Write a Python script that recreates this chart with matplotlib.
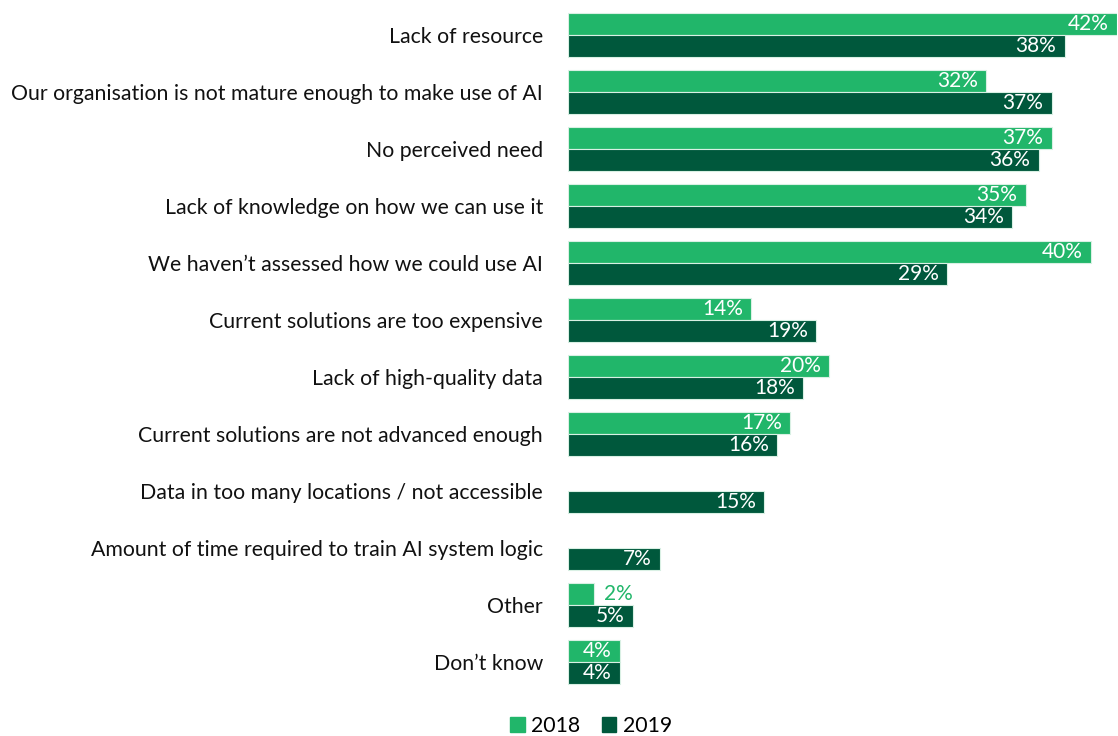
import numpy as np
import matplotlib.pyplot as plt
from matplotlib.patches import Patch

plt.rcParams['font.family'] = ['Lato', 'DejaVu Sans']

categories = [
    "Lack of resource",
    "Our organisation is not mature enough to make use of AI",
    "No perceived need",
    "Lack of knowledge on how we can use it",
    "We haven\u2019t assessed how we could use AI",
    "Current solutions are too expensive",
    "Lack of high-quality data",
    "Current solutions are not advanced enough",
    "Data in too many locations / not accessible",
    "Amount of time required to train AI system logic",
    "Other",
    "Don\u2019t know",
]
vals_2018 = [42, 32, 37, 35, 40, 14, 20, 17, None, None, 2, 4]
vals_2019 = [38, 37, 36, 34, 29, 19, 18, 16, 15, 7, 5, 4]

C18 = "#21b66a"
C19 = "#00583c"

W, H = 1118, 736
fig = plt.figure(figsize=(W / 100, H / 100), dpi=100)
# axes spans x pixels 568..1117, y pixels 0..700
ax = fig.add_axes([568 / W, 1 - 700 / H, (1117 - 568) / W, 700 / H])

y = np.arange(len(categories))
bh = 22 / 57

for i, (a, b) in enumerate(zip(vals_2018, vals_2019)):
    for v, off, col in [(a, -bh / 2, C18), (b, bh / 2, C19)]:
        if v is None:
            continue
        ax.barh(i + off, v, height=bh, color=col, edgecolor="#d9f0e4", lw=0.8)
        if v >= 4:
            ax.annotate(f"{v}%", (v, i + off), xytext=(-6, 0), textcoords="offset points",
                        ha="right", va="center", color="white", fontsize=15)
        else:
            ax.annotate(f"{v}%", (v, i + off), xytext=(7, 0), textcoords="offset points",
                        ha="left", va="center", color=col, fontsize=15)

ax.set_xlim(0, 42)
ax.set_ylim((700 - 35) / 57, -35 / 57)
ax.set_yticks(y)
ax.set_yticklabels(categories, fontsize=15.3, color="#111111")
ax.tick_params(axis="y", length=0, pad=18)
ax.set_xticks([])
for s in ax.spines.values():
    s.set_visible(False)

handles = [Patch(color=C18, label="2018"), Patch(color=C19, label="2019")]
fig.legend(handles=handles, loc="center", bbox_to_anchor=(591 / W, 1 - 726 / H), ncol=2,
           frameon=False, fontsize=15.3, handlelength=0.7, handleheight=0.7,
           handletextpad=0.3, columnspacing=1.0)

fig.savefig("out.png", dpi=100)
